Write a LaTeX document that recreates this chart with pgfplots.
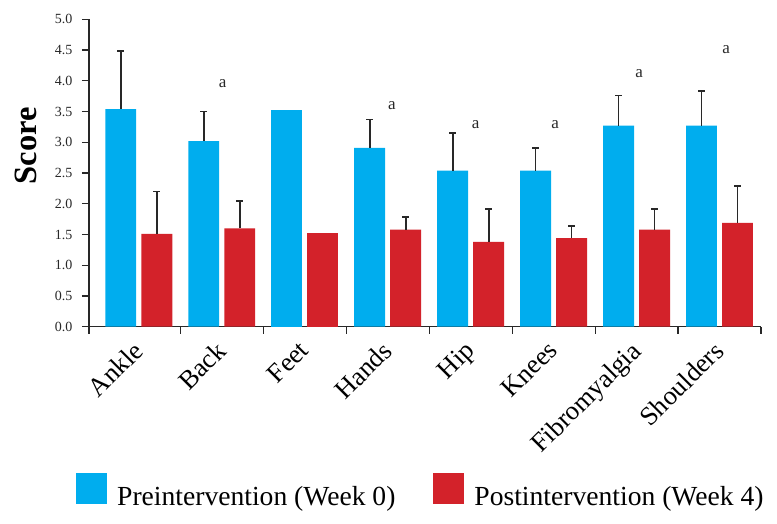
\documentclass[border=0pt]{standalone}
\usepackage{pgfplots}
\pgfplotsset{compat=1.18}
\usepackage{fontspec}
\setmainfont{Liberation Serif}
\definecolor{preblue}{RGB}{0,173,238}
\definecolor{postred}{RGB}{211,34,42}
\definecolor{axisgray}{RGB}{40,40,40}
\begin{document}
\begin{tikzpicture}
\useasboundingbox (-89pt,-197.3pt) rectangle (688pt,326.7pt);
\begin{axis}[
  at={(0pt,0pt)}, anchor=south west,
  scale only axis, width=672pt, height=307.4pt,
  xmin=-0.6, xmax=7.5, ymin=0, ymax=5,
  axis x line*=bottom, axis y line*=left,
  axis line style={-, line width=1.1pt, axisgray},
  tick align=outside,
  major tick length=7pt,
  tick style={line width=1.1pt, axisgray},
  xtick={-0.6,0.5,1.5,2.5,3.5,4.5,5.5,6.5,7.5},
  xticklabels={},
  extra x ticks={0,1,2,3,4,5,6,7},
  extra x tick labels={Ankle,Back,Feet,Hands,Hip,Knees,Fibromyalgia,Shoulders},
  extra x tick style={major tick length=0pt},
  xticklabel style={rotate=45, anchor=north east, inner sep=0pt, font=\fontsize{26.5}{26.5}\selectfont, xshift=-14pt, yshift=-4pt},
  ytick={0,0.5,...,5},
  /pgf/number format/assume math mode=true,
  yticklabel style={/pgf/number format/.cd, fixed, fixed zerofill, precision=1, /tikz/.cd, font=\fontsize{14}{14}\selectfont, color=axisgray, xshift=-6pt},
  ylabel={\textbf{Score}},
  ylabel style={at={(axis description cs:-0.0938,0.588)}, anchor=center, font=\fontsize{32.5}{32.5}\selectfont},
  legend style={at={(0.4938,-0.535)}, anchor=center, draw=none, legend columns=2,
    font=\fontsize{27.6}{27.6}\selectfont, inner sep=0pt,
    /tikz/every even column/.append style={column sep=36pt}},
  legend image code/.code={\path[#1, draw=none] (0pt,-8pt) rectangle (31pt,23pt); \path (39pt,0pt);},
  error bars/error bar style={line width=1.8pt, draw=axisgray},
]
\addplot[ybar, bar width=0.373, bar shift=0pt, fill=preblue, draw=none,
  error bars/.cd, y dir=plus, y explicit,
  error mark options={rotate=90, mark size=3.5pt, line width=1.8pt, draw=axisgray}]
  coordinates {(-0.217,3.54) +- (0,0.95) (0.783,3.02) +- (0,0.48) (2.783,2.91) +- (0,0.46) (3.783,2.54) +- (0,0.61) (4.783,2.54) +- (0,0.37) (5.783,3.27) +- (0,0.49) (6.783,3.27) +- (0,0.57)};
\addlegendentry{Preintervention (Week 0)}
\addplot[forget plot, ybar, bar width=0.373, bar shift=0pt, fill=preblue, draw=none]
  coordinates {(1.783,3.52)};
\addplot[ybar, bar width=0.373, bar shift=0pt, fill=postred, draw=none,
  error bars/.cd, y dir=plus, y explicit,
  error mark options={rotate=90, mark size=3.5pt, line width=1.8pt, draw=axisgray}]
  coordinates {(0.217,1.51) +- (0,0.69) (1.217,1.60) +- (0,0.45) (3.217,1.58) +- (0,0.21) (4.217,1.38) +- (0,0.53) (5.217,1.44) +- (0,0.20) (6.217,1.58) +- (0,0.33) (7.217,1.69) +- (0,0.60)};
\addlegendentry{Postintervention (Week 4)}
\addplot[forget plot, ybar, bar width=0.373, bar shift=0pt, fill=postred, draw=none]
  coordinates {(2.217,1.53)};
% significance marks
\addplot[forget plot, draw=none, mark=none, nodes near coords={a},
  every node near coord/.append style={anchor=center, font=\fontsize{17}{17}\selectfont, text=axisgray}]
  coordinates {(1.01,3.96) (3.05,3.60) (4.06,3.29) (5.02,3.29) (6.03,4.12) (7.08,4.50)};
\end{axis}
\end{tikzpicture}
\end{document}
